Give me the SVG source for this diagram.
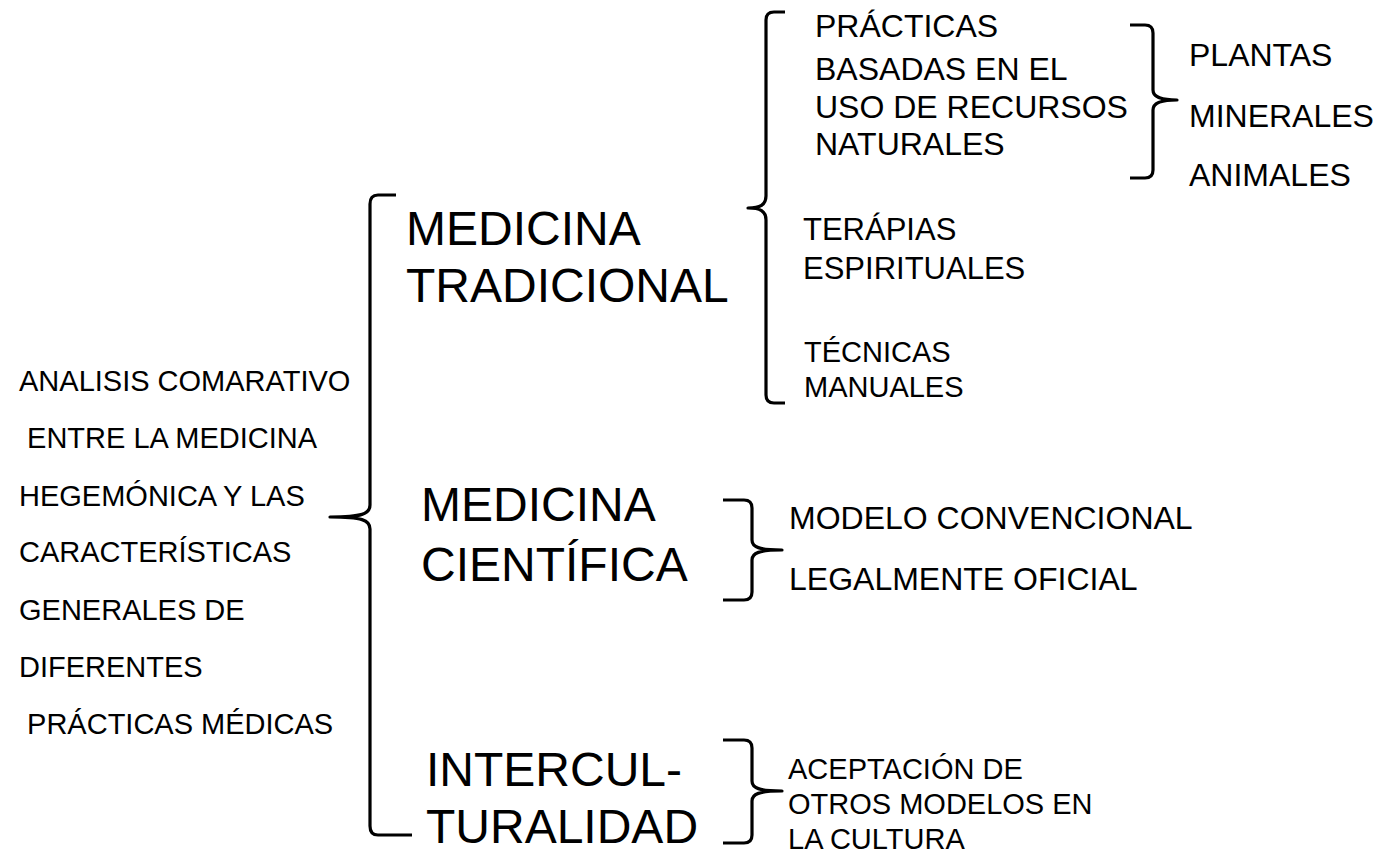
<svg xmlns="http://www.w3.org/2000/svg" width="1380" height="854" viewBox="0 0 1380 854">
<style>
text{font-family:"Liberation Sans",Arial,sans-serif;fill:#000}
.l{font-size:29px}
.t{font-size:31px}
.m{font-size:32px}
.b{font-size:48px}
.br{fill:none;stroke:#000;stroke-width:3.2;stroke-linejoin:round;stroke-linecap:butt}
</style>
<rect width="1380" height="854" fill="#fff"/>
<g id="connectors">
<path class="br" d="M396,195 L378,195 Q370,195 370,204 L370,505 C370,514 362,517 330,517 C362,517 370,520 370,529 L370,826 Q370,835 378,835 L412,835"/>
<path class="br" d="M785,12 L774,12 Q766,12 766,20 L766,196 C766,205 760,208 748,208 C760,208 766,211 766,220 L766,395 Q766,403 774,403 L785,403"/>
<path class="br" d="M1130,25 L1145,25 Q1153,25 1153,33 L1153,90 C1153,97 1160,100 1177,100 C1160,100 1153,103 1153,110 L1153,170 Q1153,178 1145,178 L1130,178"/>
<path class="br" d="M723,500 L744,500 Q752,500 752,508 L752,540 C752,547 759,550 782,550 C759,550 752,553 752,560 L752,592 Q752,600 744,600 L723,600"/>
<path class="br" d="M723,740 L744,740 Q752,740 752,748 L752,781 C752,788 759,791 782,791 C759,791 752,794 752,801 L752,835 Q752,843 744,843 L723,843"/>
</g>
<g id="root">
<text class="l" x="19" y="391">ANALISIS COMARATIVO</text>
<text class="l" x="19" y="448" xml:space="preserve"> ENTRE LA MEDICINA</text>
<text class="l" x="19" y="506">HEGEMÓNICA Y LAS</text>
<text class="l" x="19" y="562">CARACTERÍSTICAS</text>
<text class="l" x="19" y="620">GENERALES DE</text>
<text class="l" x="19" y="677">DIFERENTES</text>
<text class="l" x="19" y="734" xml:space="preserve"> PRÁCTICAS MÉDICAS</text>
</g>
<g id="medicina-tradicional">
<text class="b" x="406" y="245">MEDICINA</text>
<text class="b" x="406" y="302">TRADICIONAL</text>
</g>
<g id="medicina-cientifica">
<text class="b" x="421" y="521">MEDICINA</text>
<text class="b" x="421" y="581">CIENTÍFICA</text>
</g>
<g id="interculturalidad">
<text class="b" x="426" y="786">INTERCUL-</text>
<text class="b" x="426" y="843">TURALIDAD</text>
</g>
<g id="practicas-recursos">
<text class="m" x="815" y="37">PRÁCTICAS</text>
<text class="m" x="815" y="80">BASADAS EN EL</text>
<text class="m" x="815" y="118">USO DE RECURSOS</text>
<text class="m" x="815" y="155">NATURALES</text>
</g>
<g id="plantas"><text class="m" x="1189" y="66">PLANTAS</text></g>
<g id="minerales"><text class="m" x="1189" y="127">MINERALES</text></g>
<g id="animales"><text class="m" x="1189" y="186">ANIMALES</text></g>
<g id="terapias">
<text class="t" x="803" y="240">TERÁPIAS</text>
<text class="t" x="803" y="279">ESPIRITUALES</text>
</g>
<g id="tecnicas">
<text class="l" x="804" y="362">TÉCNICAS</text>
<text class="l" x="804" y="397">MANUALES</text>
</g>
<g id="modelo-convencional"><text class="m" x="789" y="529">MODELO CONVENCIONAL</text></g>
<g id="legalmente-oficial"><text class="m" x="789" y="590">LEGALMENTE OFICIAL</text></g>
<g id="aceptacion">
<text class="l" x="788" y="779">ACEPTACIÓN DE</text>
<text class="l" x="788" y="814">OTROS MODELOS EN</text>
<text class="l" x="788" y="849">LA CULTURA</text>
</g>
</svg>
